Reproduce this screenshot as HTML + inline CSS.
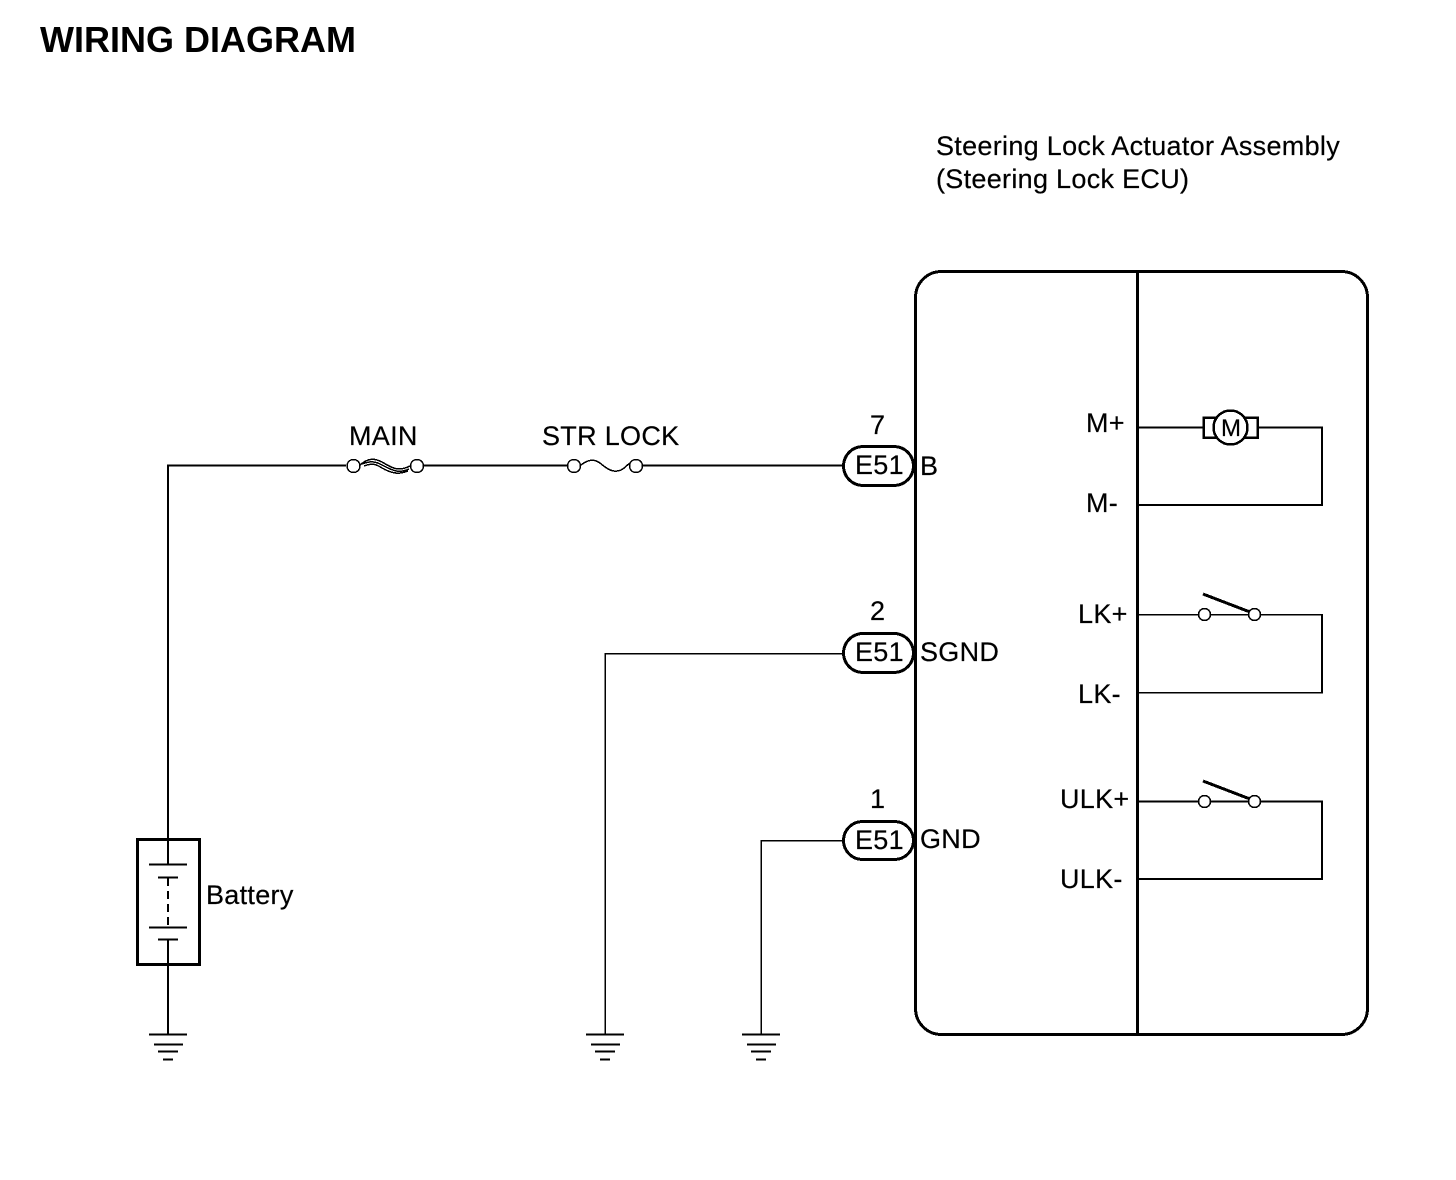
<!DOCTYPE html>
<html>
<head>
<meta charset="utf-8">
<style>
html,body{margin:0;padding:0;background:#fff;}
svg{display:block;}
text{font-family:"Liberation Sans",Arial,sans-serif;font-size:27px;fill:#000;letter-spacing:.3px;stroke:#000;stroke-width:.2px;}
</style>
</head>
<body>
<svg width="1456" height="1180" viewBox="0 0 1456 1180" xmlns="http://www.w3.org/2000/svg">
<rect width="1456" height="1180" fill="#fff"/>
<text x="40" y="52" style="font-size:36px;font-weight:bold;letter-spacing:0;stroke:none">WIRING DIAGRAM</text>
<text x="936" y="155">Steering Lock Actuator Assembly</text>
<text x="936" y="188">(Steering Lock ECU)</text>

<g fill="none" stroke="#000" shape-rendering="crispEdges">
<!-- ECU box -->
<rect x="915.500" y="271.500" width="452" height="763" rx="26" ry="26" stroke-width="3"/>
<line x1="1137.500" y1="271" x2="1137.500" y2="1035" stroke-width="3"/>

<!-- main wires -->
<path d="M168 840V465.500H346M424 465.500H567M643 465.500H844" stroke-width="2"/>
<path d="M844 653.500H605V1034" stroke-width="1.500"/>
<path d="M844 840.500H761V1034" stroke-width="1.500"/>

<!-- fuses -->
<circle cx="353.500" cy="466" r="6.500" stroke-width="1.500" fill="#fff"/>
<circle cx="417" cy="466" r="6.500" stroke-width="1.500" fill="#fff"/>
<path d="M360 465C368 458 374 458 382 462C392 468 398 472 410 466" stroke-width="1.500"/>
<path d="M362 464C370 461 375 461 382 465C392 470 398 474 409 469" stroke-width="1.500"/>
<path d="M364 466C372 463 376 464 382 468C391 473 398 475 408 471" stroke-width="1.500"/>
<circle cx="574" cy="466" r="6.500" stroke-width="1.500" fill="#fff"/>
<circle cx="636" cy="466" r="6.500" stroke-width="1.500" fill="#fff"/>
<path d="M581 465C589 459 594 459 600 463C608 470 614 473 621 470C625 468 627 465 630 463" stroke-width="1.500"/>

<!-- connectors -->
<rect x="843.500" y="446.500" width="70" height="39" rx="19.500" ry="19.500" stroke-width="3" fill="#fff"/>
<rect x="843.500" y="633.500" width="70" height="39" rx="19.500" ry="19.500" stroke-width="3" fill="#fff"/>
<rect x="843.500" y="821.500" width="70" height="38" rx="19" ry="19" stroke-width="3" fill="#fff"/>

<!-- battery -->
<rect x="137.500" y="839.500" width="62" height="125" stroke-width="3" fill="#fff"/>
<path d="M168 825V864.500" stroke-width="2"/>
<path d="M149 864.500H187M158 877.500H178M149 927.500H187M158 939.500H178" stroke-width="2"/>
<path d="M168 878V927" stroke-width="2" stroke-dasharray="8 5"/>
<path d="M168 940V1034" stroke-width="2"/>

<!-- grounds -->
<g stroke-width="2">
<path d="M149 1034.500H187M154 1044.500H183M158 1051.500H178M163 1059.500H173"/>
<path d="M586 1034.500H624M591 1044.500H620M595 1051.500H615M600 1059.500H610"/>
<path d="M742 1034.500H780M747 1044.500H776M751 1051.500H771M756 1059.500H766"/>
</g>

<!-- motor loop -->
<path d="M1138 427.500H1322V505H1138" stroke-width="2"/>
<rect x="1203.500" y="417.500" width="54" height="20" stroke-width="2.500" fill="#fff"/>
<circle cx="1230.500" cy="427.500" r="17" stroke-width="2.500" fill="#fff"/>

<!-- LK switch -->
<path d="M1138 614.500H1322V692.500H1138" stroke-width="1.500"/>
<path d="M1322 614.500V692.500" stroke-width="2"/>
<path d="M1203 594L1250 612" stroke-width="3"/>
<circle cx="1204.500" cy="614.500" r="6" stroke-width="1.500" fill="#fff"/>
<circle cx="1254.500" cy="614.500" r="6" stroke-width="1.500" fill="#fff"/>

<!-- ULK switch -->
<path d="M1138 801.500H1322V879H1138" stroke-width="2"/>
<path d="M1203 781L1250 799" stroke-width="3"/>
<circle cx="1204.500" cy="801.500" r="6" stroke-width="1.500" fill="#fff"/>
<circle cx="1254.500" cy="801.500" r="6" stroke-width="1.500" fill="#fff"/>
</g>

<text x="349" y="445">MAIN</text>
<text x="542" y="445">STR LOCK</text>
<text x="870" y="434">7</text>
<text x="870" y="620">2</text>
<text x="870" y="808">1</text>
<text x="855" y="474">E51</text>
<text x="855" y="661">E51</text>
<text x="855" y="849">E51</text>
<text x="920" y="475">B</text>
<text x="920" y="661">SGND</text>
<text x="920" y="848">GND</text>
<text x="206" y="904">Battery</text>
<text x="1086" y="432">M+</text>
<text x="1086" y="512">M-</text>
<text x="1078" y="623">LK+</text>
<text x="1078" y="703">LK-</text>
<text x="1060" y="808">ULK+</text>
<text x="1060" y="888">ULK-</text>
<text x="1221" y="436" style="font-size:24px;letter-spacing:0">M</text>
</svg>
</body>
</html>
